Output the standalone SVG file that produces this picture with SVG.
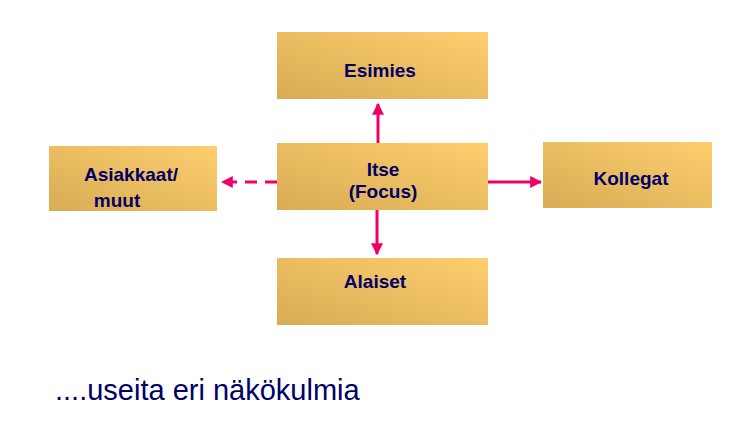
<svg xmlns="http://www.w3.org/2000/svg" width="739" height="435" viewBox="0 0 739 435">
<style>
.b{fill:url(#g)}
.t{font-family:"Liberation Sans",Arial,sans-serif;font-weight:bold;font-size:19px;fill:#000066;text-anchor:middle}
.c{stroke:#EE0066;stroke-width:3;fill:none}
</style>
<defs>
<linearGradient id="g" x1="0" y1="1" x2="1" y2="0">
<stop offset="0" stop-color="#D8AC55"/><stop offset="1" stop-color="#FECE6E"/>
</linearGradient>
<marker id="a" viewBox="0 0 10 10" refX="9" refY="5" markerWidth="4" markerHeight="4" orient="auto" markerUnits="strokeWidth">
<path d="M0,0L10,5L0,10z" fill="#EE0066"/></marker>
</defs>
<rect width="739" height="435" fill="#fff"/>
<g id="connectors">
<line class="c" x1="378" y1="143" x2="378" y2="104" marker-end="url(#a)"/>
<line class="c" x1="377" y1="210" x2="377" y2="254" marker-end="url(#a)"/>
<line class="c" x1="488" y1="182" x2="541" y2="182" marker-end="url(#a)"/>
<line class="c" x1="277" y1="182" x2="222" y2="182" stroke-dasharray="12,8" marker-end="url(#a)"/>
</g>
<g id="esimies"><rect class="b" x="277" y="32" width="211" height="67"/><text class="t" x="380" y="77">Esimies</text></g>
<g id="itse"><rect class="b" x="277" y="143" width="211" height="67"/><text class="t" x="383" y="176">Itse</text><text class="t" x="383" y="198">(Focus)</text></g>
<g id="alaiset"><rect class="b" x="277" y="258" width="211" height="67"/><text class="t" x="375" y="288">Alaiset</text></g>
<g id="asiakkaat"><rect class="b" x="49" y="146" width="168" height="65"/><text class="t" x="131" y="181">Asiakkaat/</text><text class="t" x="117" y="207">muut</text></g>
<g id="kollegat"><rect class="b" x="543" y="142" width="169" height="66"/><text class="t" x="631" y="185">Kollegat</text></g>
<text x="55" y="400" font-family="'Liberation Sans',Arial,sans-serif" font-size="29" fill="#000066">....useita eri näkökulmia</text>
</svg>
